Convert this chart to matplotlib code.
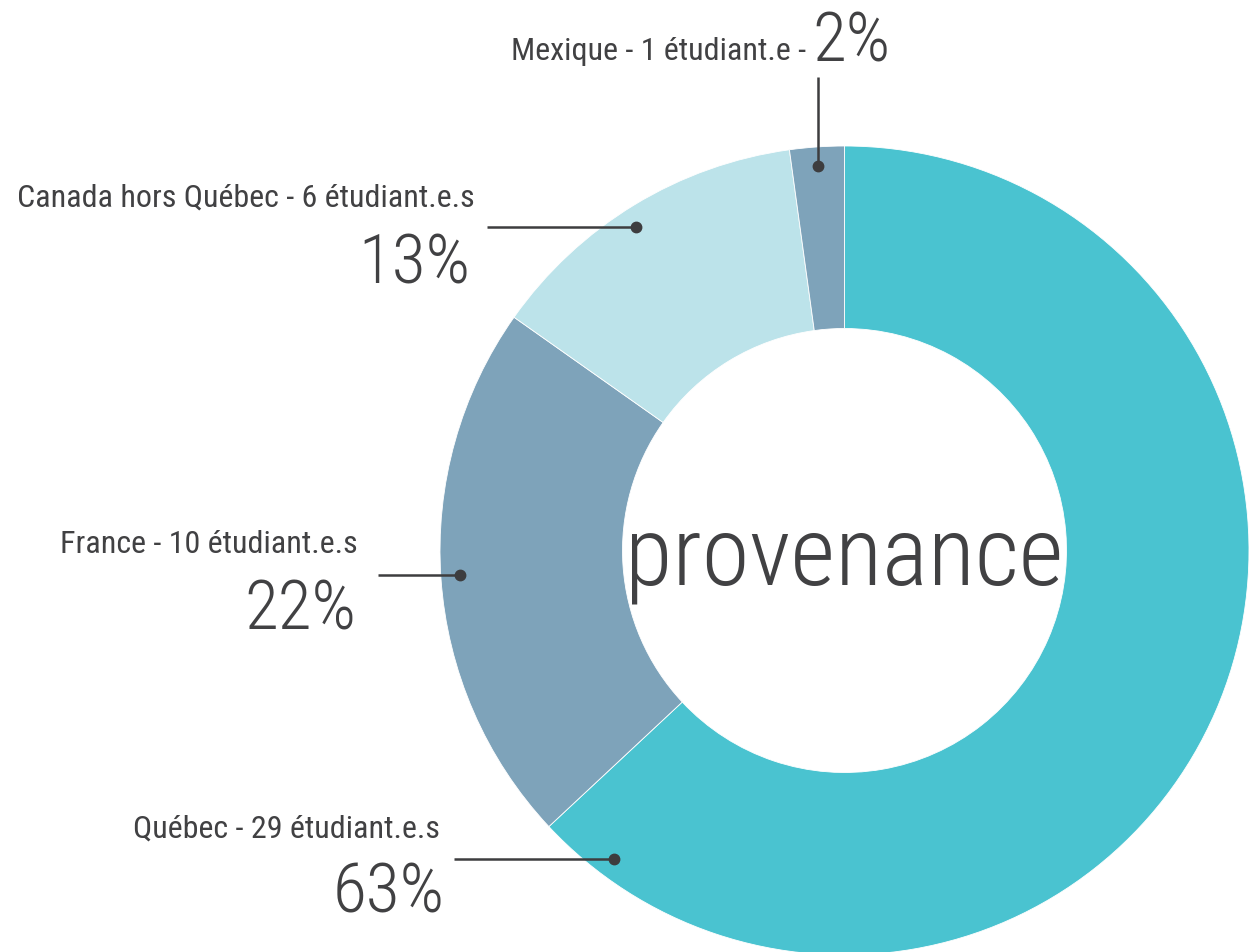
import numpy as np
import matplotlib
matplotlib.use("Agg")
import matplotlib.pyplot as plt

# ---- data ----
regions = ["Québec", "France", "Canada hors Québec", "Mexique"]
students = [29, 10, 6, 1]
percents = ["63%", "22%", "13%", "2%"]
units = ["étudiant.e.s", "étudiant.e.s", "étudiant.e.s", "étudiant.e"]
colors = ["#4AC3D0", "#7EA3BA", "#BCE3EA", "#7EA3BA"]
center_title = "provenance"

W, H = 1260, 953
FONT = "Roboto Condensed"
TXT = "#414143"

fig = plt.figure(figsize=(W / 100, H / 100), dpi=100)
ax = fig.add_axes([0, 0, 1, 1])

cx, cy = 844.5, H - 551.5
R, r_in = 404.5, 222.0

ax.pie(students, colors=colors, startangle=90, counterclock=False,
       center=(cx, cy), radius=R,
       wedgeprops=dict(width=R - r_in, edgecolor="white", linewidth=0.6))
ax.set_xlim(0, W)
ax.set_ylim(0, H)
ax.set_aspect("equal")
ax.axis("off")

ax.text(cx, H - 585, center_title, family=FONT, fontsize=70, color=TXT,
        ha="center", va="baseline", weight="light")

r_anchor = 385.0
LINE = "#3d3d3f"

def dot_left(y_px):
    y = H - y_px
    dx = np.sqrt(r_anchor ** 2 - (y - cy) ** 2)
    return cx - dx, y

# horizontal leaders: (index, line y px, line start x, label right x, label baseline, pct right x, pct baseline)
layout = [
    (0, 860, 454, 440, 838, 445, 913),
    (1, 576, 378, 358, 553, 356, 630),
    (2, 228, 487, 475, 207, 470, 283),
]
for i, ly, lx0, tx, tby, px, pby in layout:
    dx, dy = dot_left(ly)
    ax.plot([lx0, dx], [dy, dy], color=LINE, lw=1.8, solid_capstyle="butt")
    ax.plot(dx, dy, "o", color=LINE, ms=7.5)
    ax.text(tx, H - tby, f"{regions[i]} - {students[i]} {units[i]}", family=FONT,
            fontsize=23, color=TXT, ha="right", va="baseline")
    ax.text(px, H - pby, percents[i], family=FONT, fontsize=50, color=TXT,
            ha="right", va="baseline", weight="light")

# Mexique: vertical leader
i = 3
mx = 818
my = cy + np.sqrt(r_anchor ** 2 - (mx - cx) ** 2)
ax.plot([mx, mx], [H - 78, my], color=LINE, lw=1.8, solid_capstyle="butt")
ax.plot(mx, my, "o", color=LINE, ms=7.5)
ax.text(806, H - 60, f"{regions[i]} - {students[i]} {units[i]} -", family=FONT,
        fontsize=23, color=TXT, ha="right", va="baseline")
ax.text(812, H - 62, percents[i], family=FONT, fontsize=50, color=TXT,
        ha="left", va="baseline", weight="light")

fig.savefig("out.png", dpi=100)
